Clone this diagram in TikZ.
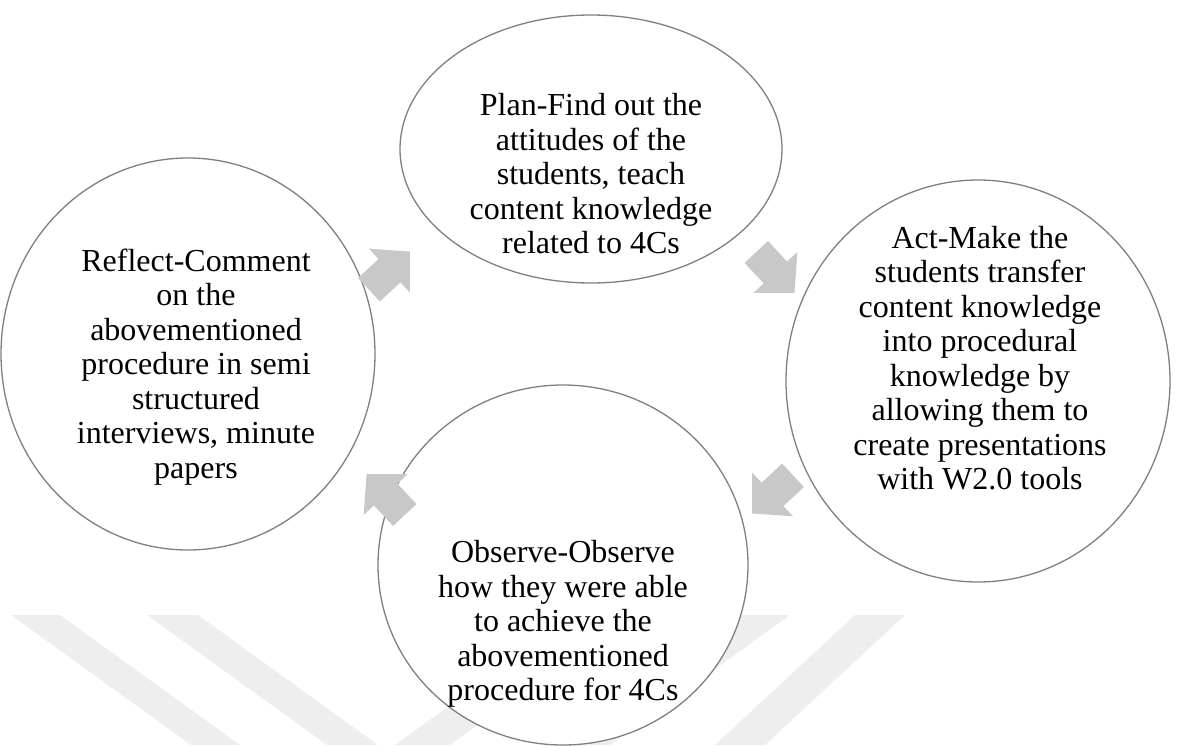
\documentclass[tikz,border=0pt]{standalone}
\usepackage{fontspec}
\setmainfont{Liberation Serif}
\usetikzlibrary{shapes.geometric}
\definecolor{ring}{HTML}{7F7F7F}
\definecolor{arrowfill}{HTML}{C8C8C8}
\definecolor{wm}{HTML}{EEEEEE}
\begin{document}
\begin{tikzpicture}[x=1pt,y=1pt,
  cyc/.style={ellipse, draw=ring, line width=1.3pt, fill=white, inner sep=0pt},
  txt/.style={align=center, font=\fontsize{32}{34.5}\selectfont, inner sep=0pt},
  blockarrow/.style={fill=arrowfill, draw=none},
  band/.style={fill=wm, draw=none}]
\useasboundingbox (0,0) rectangle (1179,-745);
% watermark
\fill[band] (11,-615) -- (60,-615) -- (240,-745) -- (191,-745) -- cycle;
\fill[band] (147,-615) -- (198,-615) -- (378,-745) -- (327,-745) -- cycle;
\fill[band] (395,-745) -- (450,-745) -- (630,-615) -- (575,-615) -- cycle;
\fill[band] (740,-615) -- (790,-615) -- (610,-745) -- (560,-745) -- cycle;
\fill[band] (855,-615) -- (905,-615) -- (765,-745) -- (715,-745) -- cycle;
% circles
\node[cyc, minimum width=382pt, minimum height=268pt] (plan) at (591,-149) {};
\node[cyc, minimum width=374pt, minimum height=392pt] (reflect) at (188,-354) {};
\node[cyc, minimum width=384pt, minimum height=402pt] (act) at (978,-381) {};
\node[cyc, minimum width=370pt, minimum height=360pt] (observe) at (563,-565) {};
% texts
\node[txt] (plantext) at (591,-174) {Plan-Find out the\\attitudes of the\\students, teach\\content knowledge\\related to 4Cs};
\node[txt] (reflecttext) at (196,-367) {Reflect-Comment\\on the\\abovementioned\\procedure in semi\\structured\\interviews, minute\\papers};
\node[txt] (acttext) at (980,-358) {Act-Make the\\students transfer\\content knowledge\\into procedural\\knowledge by\\allowing them to\\create presentations\\with W2.0 tools};
\node[txt] (observetext) at (563,-624) {Observe-Observe\\how they were able\\to achieve the\\abovementioned\\procedure for 4Cs};
% arrows
\foreach \px/\py/\ang/\nm in {388/-272/43/a1, 774/-271/-47/a2, 774/-493/-137/a3, 387/-496/133/a4}{
  \fill[blockarrow, shift={(\px,\py)}, rotate=\ang]
    (-26,-16) -- (2,-16) -- (2,-30) -- (30,0) -- (2,30) -- (2,16) -- (-26,16) -- cycle;
  \coordinate (\nm) at (\px,\py);
}
\end{tikzpicture}
\end{document}
